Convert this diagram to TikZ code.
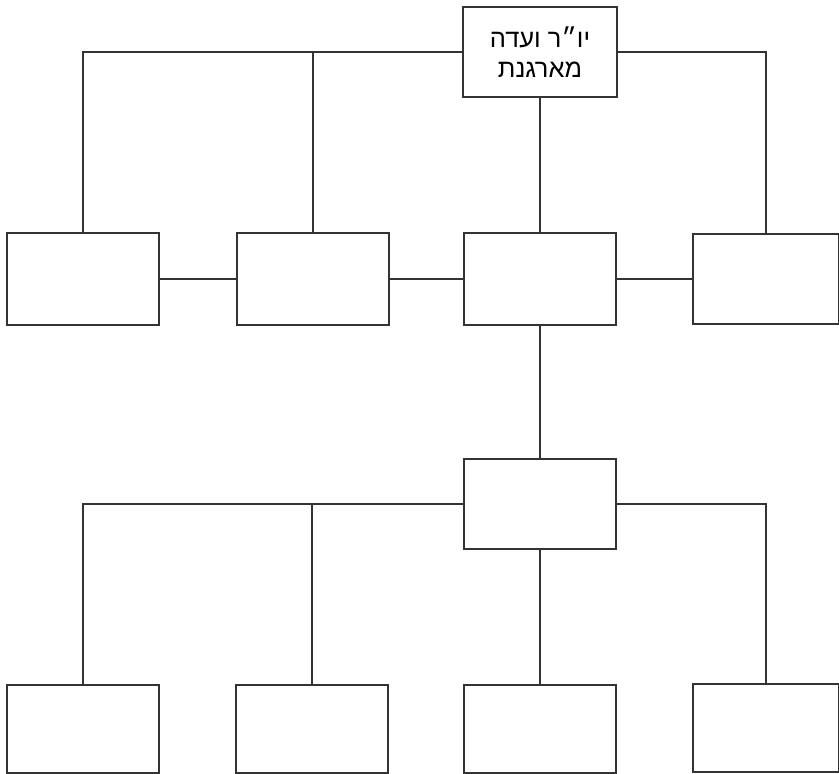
\documentclass[tikz,border=0pt]{standalone}
\usepackage{fontspec}
\usepackage{tikz}
\TeXXeTstate=1
\newfontfamily\hebfont[Script=Hebrew]{Liberation Sans}
\tikzset{every picture/.append style={font=\hebfont\fontsize{14.5}{17}\selectfont}}
\definecolor{orgink}{HTML}{333333}
\tikzset{orgbox/.style={draw=orgink,line width=0.8pt,minimum width=3.04cm,minimum height=1.84cm,inner sep=0pt,align=center}}

\begin{document}
\begin{tikzpicture}[x=0.02cm,y=-0.02cm,line width=0.8pt,draw=orgink]
    \useasboundingbox (0,0) rectangle (839,774);
    \node[orgbox,minimum width=3.08cm,minimum height=1.80cm] (chair) at (540,52)
      {\beginR יו״ר ועדה\endR\\\beginR מארגנת\endR};
    \node[orgbox] (r1a) at (83,279) {};
    \node[orgbox] (r1b) at (313,279) {};
    \node[orgbox] (r1c) at (540,279) {};
    \node[orgbox,minimum width=2.92cm,minimum height=1.80cm] (r1d) at (766,279) {};
    \node[orgbox,minimum height=1.80cm] (mid) at (540,504) {};
    \node[orgbox,minimum height=1.76cm] (r2a) at (83,729) {};
    \node[orgbox,minimum height=1.76cm] (r2b) at (312,729) {};
    \node[orgbox,minimum height=1.76cm] (r2c) at (540,729) {};
    \node[orgbox,minimum width=2.92cm,minimum height=1.76cm] (r2d) at (766,728) {};
    \foreach \b in {r1a,r1b} \draw (chair.west) -| (\b.north);
    \draw (chair.east) -| (r1d.north);
    \draw (chair) -- (r1c);
    \foreach \a/\b in {r1a/r1b,r1b/r1c,r1c/r1d} \draw (\a) -- (\b);
    \draw (r1c) -- (mid);
    \foreach \b in {r2a,r2b} \draw (mid.west) -| (\b.north);
    \draw (mid.east) -| (r2d.north);
    \draw (mid) -- (r2c);
\end{tikzpicture}
\end{document}
